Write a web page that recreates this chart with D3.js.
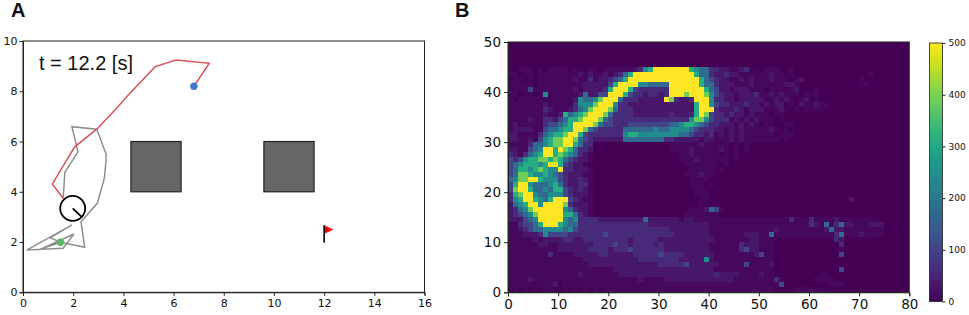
<!DOCTYPE html>
<html>
<head>
<meta charset="utf-8">
<script src="https://cdn.jsdelivr.net/npm/d3@7"></script>
<style>
	body { margin: 0; background: #fff; }
	svg { display: block; }
	.tick text { font-family: "DejaVu Sans"; fill: #111; }
</style>
</head>
<body>
<div id="chart"></div>
<script>
// panel A: agent paths, [x, y] in arena units
var redPath = [[6.81,8.2],[7.42,9.11],[6.1,9.24],[5.27,8.98],[4.13,7.78],[3.73,7.32],[2.94,6.49],[2.06,5.79],[1.74,5.26],[1.17,4.3],[1.6,3.74]];
var grayPath = [[1.6,3.74],[1.67,4.78],[1.98,5.26],[2.19,5.59],[1.95,6.59],[2.94,6.49],[3.31,5.5],[3.31,5.26],[3.24,4.53],[2.96,3.54],[2.31,2.81],[2.46,1.79],[1.49,1.99],[1.08,2.17],[1.95,2.68],[0.15,1.68],[1.6,1.75],[2.03,2.32],[0.61,1.68],[1.49,1.99]];
var obstacles = [[4.3,4,2,2],[9.6,4,2,2]];
var agent = [1.98,3.34];
var heading = [2.34,3.0];
var startPoint = [6.81,8.2];
var endPoint = [1.49,1.99];
var flagPole = [[12,1.97],[12,2.665]];
var flagCloth = [[12,2.665],[12.37,2.5],[12,2.32]];
var xTicksA = [0,2,4,6,8,10,12,14,16];
var yTicksA = [0,2,4,6,8,10];

// panel B: visit counts, one digit per cell (index into heatLevels), top row first
var xTicksB = [0,10,20,30,40,50,60,70,80];
var yTicksB = [0,10,20,30,40,50];
var cbTicks = [0,100,200,300,400,500];
var heatLevels = [0,10,30,60,105,170,240,310,390,500];
var heatRows = [
	"",
	"",
	"",
	"",
	"",
	"0011101011 1101101101 1111123679 9999997655 3322112311 0111001000",
	"1101101111 1111212112 1235799999 9999999755 3223221111 1121101000 0000000000 0010000000",
	"0110101111 1112113122 3457999999 9999999975 4322112121 1121110120 0000000000 1000000000",
	"1111101111 1111122222 4799996655 5599999975 5322211121 1111122100 0000000000 1100000000",
	"1111411111 1112122223 7999743333 3399999997 5422122211 1011101200 0100000000",
	"1101101611 1111252244 9997433233 2399989998 6432212223 1121211101 1100000000",
	"1011111111 1112655689 9953332222 2983223999 6332212222 2112121012 0100000000",
	"1111111211 1113666899 9633222222 2222222799 6433222322 1212201021 1211000000",
	"1111111321 1123568999 8533322222 2222222799 9322232122 2111210101 1110000000",
	"1111111211 2756789998 5333322222 2232223798 4332322121 1101100000",
	"1111211332 4577899985 4333333333 3333336886 4333121212 1110100000",
	"1211111344 5679999854 4333444444 4455677654 3322212121 0110011000",
	"1222211455 6779985433 3335555556 5566665433 3221212111 1121010000",
	"2211113567 7899743333 3336776666 6666554332 3121212111 1110111000",
	"2211214678 8998543222 2225555555 5332222212 2111212111 1111010000",
	"1111355678 8997533000 0000000000 0011111121 1111010100",
	"2211456997 9875332000 0000000000 0011112111 1121010100",
	"3213567997 8765321000 0000000000 0000112111 1101010000",
	"4346778878 7543221000 0000000000 0000111211 1111010000",
	"4567776799 7432210000 0000000000 0000011111 1101000000",
	"4577678766 9332221000 0000000000 0000001111 1010000000",
	"4588766765 4322211000 0000000000 0000011121 1000000000",
	"5688997666 4322321000 0000000000 0000001111",
	"4799655567 5322331000 0000000000 0000001110 1000000000",
	"4899755657 7432321000 0000000000 0000000111",
	"3789965566 6432221000 0000000000 0000000111",
	"3679976579 9943211000 0000000000 0000000011 0000000000 0000000000 0000000020",
	"2567996999 9832221000 0000000000 0000000011",
	"2356899999 9653221000 0000000000 0000001112 5410000000",
	"2345689999 9775321000 0000000000 0000011111 1100000000",
	"2224569999 9656333322 2222222522 2222122111 1111111111 1111113111 3111121111 1111000000",
	"1134457999 7655333333 3333333322 2222222222 1111111111 1111111111 3215135221 1122200000",
	"1123455666 6564333333 3333333333 3322222222 1111111111 1112111111 1112522111 1111100000",
	"1112223644 4433333334 3333333333 3332222222 1111111222 1151111111 1111135111 2111100000",
	"1111121222 2332233333 3333233333 2222222222 2111111122 1110000000 0000032000",
	"1111112211 2222222333 3433233332 3222222222 1111113222 1110000000 0000003000",
	"1111111111 2222223333 2333433333 3222222222 1111113422 1110000000 0000001000",
	"1111111131 1112222233 2222233333 4333322222 2111111112 4110000000 0000004000",
	"1111111111 1111122222 2222223333 3333222226 2111111111 1110000000",
	"1111111111 1111112222 2222222222 3333342222 2211111411 1120000000",
	"1111111111 1111111111 1222222222 2222222222 2111111111 1110000000 0000004000",
	"1111111111 1111211111 1122222222 2222222222 2322221111 2110000000 0011000000",
	"1111211111 1111111111 1111112111 1222222222 2222211111 1113100000 0111100000",
	"1111111112 0111111111 1111111111 1111111111 1111111111 1111400000 0000111000",
	"0101010110 0101010101 1111111111 1111111111 1111111111 1110000111 1110000000"
];

var width = 969;
var height = 315;
var darkLine = '#222';

var svg = d3.select('#chart')
	.append('svg')
	.attr('width', width)
	.attr('height', height);

var xA = d3.scaleLinear().domain([0,16]).range([23,424.5]);
var yA = d3.scaleLinear().domain([0,10]).range([292.3,41]);

var xB = d3.scaleLinear().domain([0,80]).range([508,909.3]);
var yB = d3.scaleLinear().domain([0,50]).range([292.3,42]);
var cbScale = d3.scaleLinear().domain([0,500]).range([301.5,43]);

function colour(v) {
	return d3.interpolateViridis(v / 500);
}

function styleAxis(g, size) {
	g.selectAll('.tick text').style('font-size', size + 'px');
	g.selectAll('.tick line').attr('stroke', darkLine);
	g.select('.domain').attr('stroke', darkLine);
}

function frame(x, y) {
	svg.append('rect')
		.attr('x', x.range()[0])
		.attr('y', y.range()[1])
		.attr('width', x.range()[1] - x.range()[0])
		.attr('height', y.range()[0] - y.range()[1])
		.attr('fill', 'none')
		.attr('stroke', darkLine)
		.attr('stroke-width', 1);
}

// ---- panel A
var line = d3.line()
	.x(function(d) { return xA(d[0]); })
	.y(function(d) { return yA(d[1]); });

svg.selectAll('.obstacle')
	.data(obstacles)
	.enter()
	.append('rect')
	.attr('class', 'obstacle')
	.attr('x', function(d) { return xA(d[0]); })
	.attr('y', function(d) { return yA(d[1] + d[3]); })
	.attr('width', function(d) { return xA(d[0] + d[2]) - xA(d[0]); })
	.attr('height', function(d) { return yA(d[1]) - yA(d[1] + d[3]); })
	.attr('fill', '#666')
	.attr('stroke', darkLine)
	.attr('stroke-width', 1.2);

svg.append('path')
	.attr('d', line(grayPath))
	.attr('fill', 'none')
	.attr('stroke', '#8e8e8e')
	.attr('stroke-width', 1.5);

svg.append('path')
	.attr('d', line(redPath))
	.attr('fill', 'none')
	.attr('stroke', '#d9535a')
	.attr('stroke-width', 1.5);

svg.append('circle')
	.attr('cx', xA(startPoint[0]))
	.attr('cy', yA(startPoint[1]))
	.attr('r', 3.7)
	.attr('fill', '#3f77d2');

svg.append('circle')
	.attr('cx', xA(endPoint[0]))
	.attr('cy', yA(endPoint[1]))
	.attr('r', 3.7)
	.attr('fill', '#5cb56c');

svg.append('circle')
	.attr('cx', xA(agent[0]))
	.attr('cy', yA(agent[1]))
	.attr('r', 12.5)
	.attr('fill', '#fff')
	.attr('stroke', '#000')
	.attr('stroke-width', 1.8);

svg.append('path')
	.attr('d', line([agent, heading]))
	.attr('stroke', '#000')
	.attr('stroke-width', 1.8);

svg.append('path')
	.attr('d', line(flagCloth) + 'Z')
	.attr('fill', '#f00');

svg.append('path')
	.attr('d', line(flagPole))
	.attr('stroke', '#000')
	.attr('stroke-width', 1.6);

frame(xA, yA);

svg.append('g')
	.attr('transform', 'translate(0, ' + yA(0) + ')')
	.call(d3.axisBottom(xA).tickValues(xTicksA).tickSize(3.5).tickPadding(3).tickFormat(d3.format('d')))
	.call(styleAxis, 11);

svg.append('g')
	.attr('transform', 'translate(' + xA(0) + ', 0)')
	.call(d3.axisLeft(yA).tickValues(yTicksA).tickSize(3.5).tickPadding(2).tickFormat(d3.format('d')))
	.call(styleAxis, 11);

svg.append('text')
	.attr('x', 39)
	.attr('y', 70)
	.attr('font-family', '"Liberation Sans"')
	.attr('font-size', 20)
	.attr('fill', '#111')
	.text('t = 12.2 [s]');

// ---- panel B
var cells = [];
heatRows.forEach(function(row, r) {
	var digits = row.replace(/ /g, '').padEnd(80, '0');
	for (var c = 0; c < 80; c++) {
		cells.push({ col: c, row: 49 - r, value: heatLevels[+digits[c]] });
	}
});

svg.append('g')
	.attr('shape-rendering', 'crispEdges')
	.selectAll('rect')
	.data(cells)
	.enter()
	.append('rect')
	.attr('x', function(d) { return xB(d.col); })
	.attr('y', function(d) { return yB(d.row + 1); })
	.attr('width', function(d) { return xB(d.col + 1) - xB(d.col); })
	.attr('height', function(d) { return yB(d.row) - yB(d.row + 1); })
	.attr('fill', function(d) { return colour(d.value); });

frame(xB, yB);

svg.append('g')
	.attr('transform', 'translate(0, ' + yB(0) + ')')
	.call(d3.axisBottom(xB).tickValues(xTicksB).tickSize(4).tickPadding(3).tickFormat(d3.format('d')))
	.call(styleAxis, 13.5);

svg.append('g')
	.attr('transform', 'translate(' + xB(0) + ', 0)')
	.call(d3.axisLeft(yB).tickValues(yTicksB).tickSize(4).tickPadding(3).tickFormat(d3.format('d')))
	.call(styleAxis, 13.5);

// ---- colour bar
var gradient = svg.append('defs')
	.append('linearGradient')
	.attr('id', 'viridis')
	.attr('x1', 0).attr('x2', 0)
	.attr('y1', 1).attr('y2', 0);

d3.range(0, 1.01, 0.05).forEach(function(t) {
	gradient.append('stop')
		.attr('offset', t)
		.attr('stop-color', d3.interpolateViridis(t));
});

svg.append('rect')
	.attr('x', 929.5)
	.attr('y', cbScale(500))
	.attr('width', 13)
	.attr('height', cbScale(0) - cbScale(500))
	.attr('fill', 'url(#viridis)')
	.attr('stroke', darkLine)
	.attr('stroke-width', 0.8);

svg.append('g')
	.attr('transform', 'translate(942.5, 0)')
	.call(d3.axisRight(cbScale).tickValues(cbTicks).tickSize(3).tickPadding(3).tickFormat(d3.format('d')))
	.call(styleAxis, 9)
	.select('.domain').remove();

// ---- panel letters
svg.selectAll('.letter')
	.data([{ t: 'A', x: 11 }, { t: 'B', x: 455 }])
	.enter()
	.append('text')
	.attr('class', 'letter')
	.attr('x', function(d) { return d.x; })
	.attr('y', 17)
	.attr('font-family', '"Liberation Sans"')
	.attr('font-weight', 'bold')
	.attr('font-size', 20)
	.attr('fill', '#111')
	.text(function(d) { return d.t; });
</script>
</body>
</html>
